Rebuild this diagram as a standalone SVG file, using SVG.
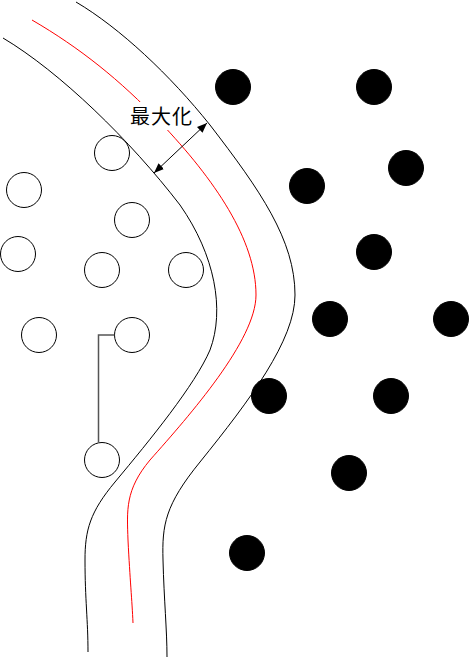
<svg xmlns="http://www.w3.org/2000/svg" width="470" height="658" viewBox="0 0 470 658">
<style>
.o{fill:#fff;stroke:#000;stroke-width:1}
.b{fill:#000;stroke:#000;stroke-width:1}
.c{fill:none;stroke:#000;stroke-width:1}
.r{fill:none;stroke:#ff0000;stroke-width:1}
.lbl{font-family:"Noto Sans CJK JP","Noto Sans CJK SC",sans-serif;font-size:20px;fill:#000}
</style>
<defs>
<marker id="ah" viewBox="0 0 10 10" refX="10" refY="5" markerWidth="10" markerHeight="10" markerUnits="userSpaceOnUse" orient="auto-start-reverse">
<path d="M0,1 L10,5 L0,9 Z" fill="#000"/>
</marker>
</defs>
<rect width="470" height="658" fill="#fff"/>
<g id="boundaries">
<path id="margin-left" class="c" d="M3,38 C60,72 130,140 180,205 C215,255 225,310 210,350 C195,385 150,440 115,482 C90,512 85,530 85,560 C85,600 88,620 88,652"/>
<path id="hyperplane" class="r" d="M32,20 C80,48 120,80 160,122 C215,180 256,240 256,295 C256,340 190,415 150,460 C125,490 127,510 128,540 C130,580 132,600 133,623"/>
</g>
<g id="label">
<rect x="130" y="102" width="64" height="28" fill="#fff"/>
<text class="lbl" x="130" y="124" letter-spacing="1">最大化</text>
</g>
<g id="boundary-right">
<path id="margin-right" class="c" d="M76,2 C120,28 170,75 210,125 C260,190 295,240 295,295 C295,340 250,400 200,462 C165,505 162,525 163,560 C164,600 167,630 167,657"/>
</g>
<g id="open">
<circle id="o1" class="o" cx="112" cy="153" r="17.5"/>
<circle id="o2" class="o" cx="24" cy="190" r="17.5"/>
<circle id="o3" class="o" cx="132" cy="220" r="17.5"/>
<circle id="o4" class="o" cx="18" cy="254" r="17.5"/>
<circle id="o5" class="o" cx="102" cy="270" r="17.5"/>
<circle id="o6" class="o" cx="186" cy="270" r="17.5"/>
<circle id="o7" class="o" cx="39" cy="335" r="17.5"/>
<circle id="o8" class="o" cx="132" cy="335" r="17.5"/>
<circle id="o9" class="o" cx="102" cy="460" r="17.5"/>
</g>
<g id="filled">
<circle id="f1" class="b" cx="233" cy="87" r="17.5"/>
<circle id="f2" class="b" cx="374" cy="87" r="17.5"/>
<circle id="f3" class="b" cx="406" cy="168" r="17.5"/>
<circle id="f4" class="b" cx="307" cy="186" r="17.5"/>
<circle id="f5" class="b" cx="374" cy="252" r="17.5"/>
<circle id="f6" class="b" cx="330" cy="319" r="17.5"/>
<circle id="f7" class="b" cx="451" cy="319" r="17.5"/>
<circle id="f8" class="b" cx="269" cy="396" r="17.5"/>
<circle id="f9" class="b" cx="391" cy="396" r="17.5"/>
<circle id="f10" class="b" cx="349" cy="473" r="17.5"/>
<circle id="f11" class="b" cx="247" cy="553" r="17.5"/>
</g>
<g id="connectors">
<path id="link" d="M114.5,335 H98.5 V442.5" fill="none" stroke="#555" stroke-width="1.5"/>
<line id="margin-arrow" x1="207" y1="123" x2="154" y2="173" stroke="#000" stroke-width="1" marker-start="url(#ah)" marker-end="url(#ah)"/>
</g>
</svg>
